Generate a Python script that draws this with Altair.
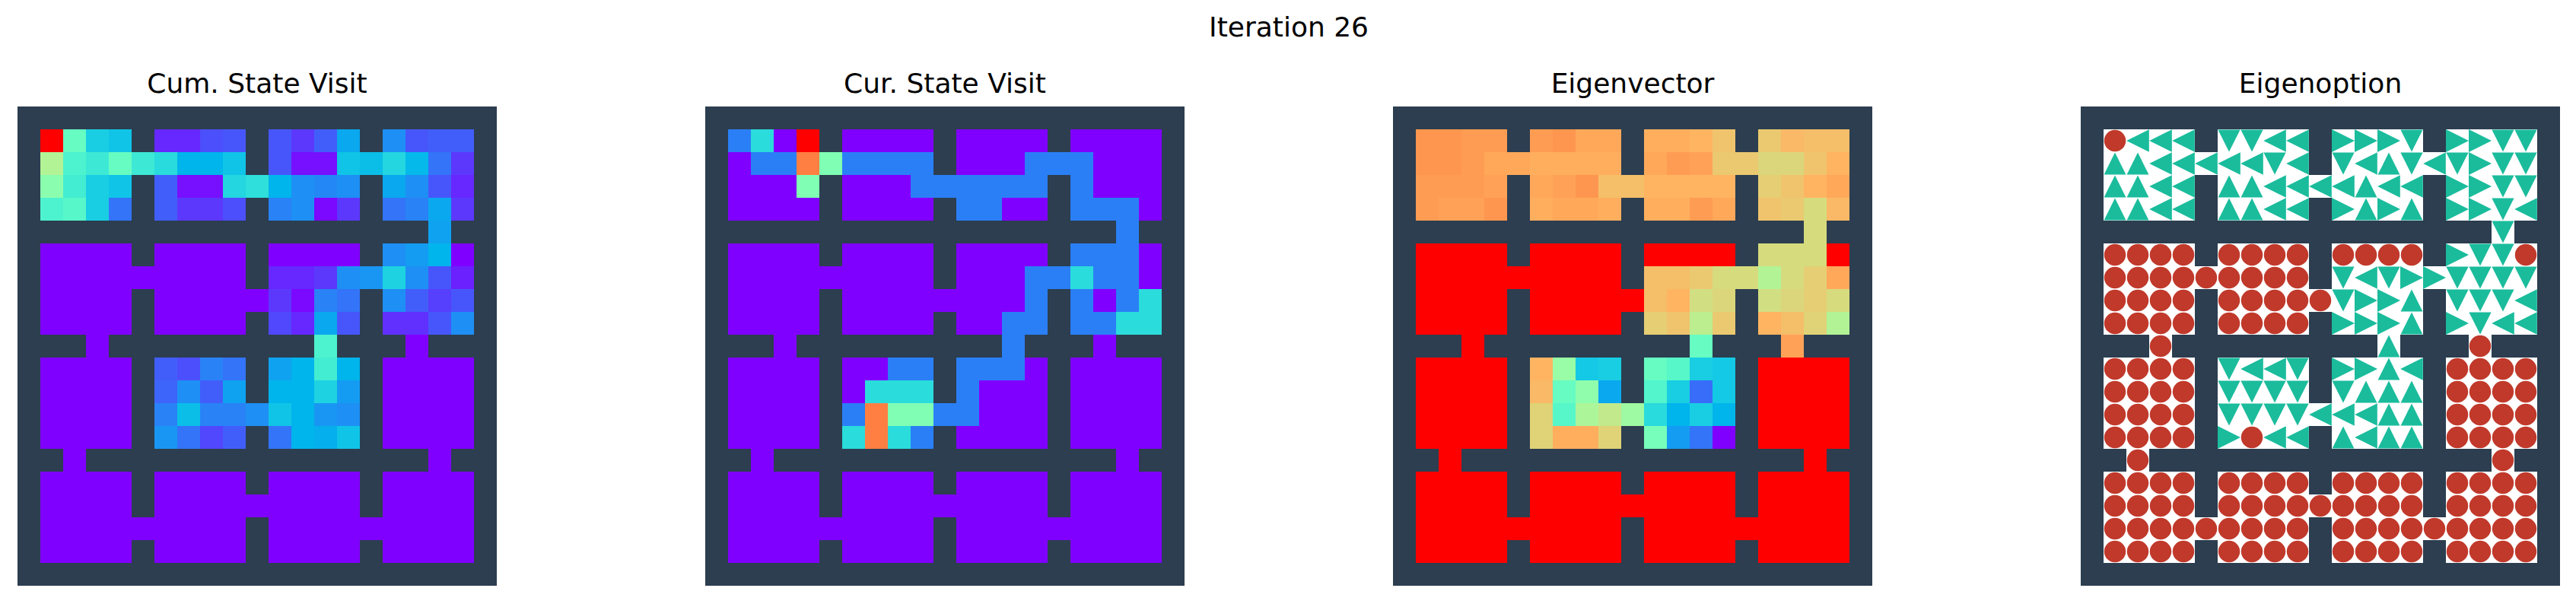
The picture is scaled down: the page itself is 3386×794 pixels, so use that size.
import math
import altair as alt
import pandas as pd

# grid world, 21 x 21 cells; "##" marks a wall cell
WALL_ROW = " ".join(["##"] * 21)

# cumulative state visits, percent of the maximum
CUM_VISIT = [
    WALL_ROW,
    "## 100 45 30 28 ## 5 5 10 11 ## 11 7 12 23 ## 19 11 12 12 ##",
    "## 60 40 37 45 37 33 25 25 28 ## 11 2 2 28 27 32 26 15 7 ##",
    "## 52 38 30 28 ## 12 2 2 32 34 25 19 18 19 ## 23 19 11 5 ##",
    "## 40 42 30 15 ## 12 7 7 10 ## 17 19 1 7 ## 15 17 23 7 ##",
    "## ## ## ## ## ## ## ## ## ## ## ## ## ## ## ## ## ## 22 ## ##",
    "## 0 0 0 0 ## 0 0 0 0 ## 0 0 0 0 ## 19 21 25 0 ##",
    "## 0 0 0 0 0 0 0 0 0 ## 5 5 7 19 20 31 19 11 4 ##",
    "## 0 0 0 0 ## 0 0 0 0 0 7 1 17 15 ## 19 12 8 11 ##",
    "## 0 0 0 0 ## 0 0 0 0 ## 9 5 23 11 ## 6 6 11 19 ##",
    "## ## ## 0 ## ## ## ## ## ## ## ## ## 40 ## ## ## 0 ## ## ##",
    "## 0 0 0 0 ## 12 10 17 15 ## 22 25 38 25 ## 0 0 0 0 ##",
    "## 0 0 0 0 ## 13 19 12 22 ## 25 25 31 21 ## 0 0 0 0 ##",
    "## 0 0 0 0 ## 17 27 17 17 19 28 25 20 19 ## 0 0 0 0 ##",
    "## 0 0 0 0 ## 20 15 9 12 ## 15 25 24 28 ## 0 0 0 0 ##",
    "## ## 0 ## ## ## ## ## ## ## ## ## ## ## ## ## ## ## 0 ## ##",
    "## 0 0 0 0 ## 0 0 0 0 ## 0 0 0 0 ## 0 0 0 0 ##",
    "## 0 0 0 0 ## 0 0 0 0 0 0 0 0 0 ## 0 0 0 0 ##",
    "## 0 0 0 0 0 0 0 0 0 ## 0 0 0 0 0 0 0 0 0 ##",
    "## 0 0 0 0 ## 0 0 0 0 ## 0 0 0 0 ## 0 0 0 0 ##",
    WALL_ROW,
]

# visits in the current iteration (counts)
CUR_VISIT = [
    WALL_ROW,
    "## 1 2 0 6 ## 0 0 0 0 ## 0 0 0 0 ## 0 0 0 0 ##",
    "## 0 1 1 5 3 1 1 1 1 ## 0 0 0 1 1 1 0 0 0 ##",
    "## 0 0 0 3 ## 0 0 0 1 1 1 1 1 1 ## 1 0 0 0 ##",
    "## 0 0 0 0 ## 0 0 0 0 ## 1 1 0 0 ## 1 1 1 0 ##",
    "## ## ## ## ## ## ## ## ## ## ## ## ## ## ## ## ## ## 1 ## ##",
    "## 0 0 0 0 ## 0 0 0 0 ## 0 0 0 0 ## 1 1 1 0 ##",
    "## 0 0 0 0 0 0 0 0 0 ## 0 0 0 1 1 2 1 1 0 ##",
    "## 0 0 0 0 ## 0 0 0 0 0 0 0 0 1 ## 1 0 1 2 ##",
    "## 0 0 0 0 ## 0 0 0 0 ## 0 0 1 1 ## 1 1 2 2 ##",
    "## ## ## 0 ## ## ## ## ## ## ## ## ## 1 ## ## ## 0 ## ## ##",
    "## 0 0 0 0 ## 0 0 1 1 ## 1 1 1 0 ## 0 0 0 0 ##",
    "## 0 0 0 0 ## 0 2 2 2 ## 1 0 0 0 ## 0 0 0 0 ##",
    "## 0 0 0 0 ## 1 5 3 3 1 1 0 0 0 ## 0 0 0 0 ##",
    "## 0 0 0 0 ## 2 5 2 1 ## 0 0 0 0 ## 0 0 0 0 ##",
    "## ## 0 ## ## ## ## ## ## ## ## ## ## ## ## ## ## ## 0 ## ##",
    "## 0 0 0 0 ## 0 0 0 0 ## 0 0 0 0 ## 0 0 0 0 ##",
    "## 0 0 0 0 ## 0 0 0 0 0 0 0 0 0 ## 0 0 0 0 ##",
    "## 0 0 0 0 0 0 0 0 0 ## 0 0 0 0 0 0 0 0 0 ##",
    "## 0 0 0 0 ## 0 0 0 0 ## 0 0 0 0 ## 0 0 0 0 ##",
    WALL_ROW,
]

# eigenvector, rescaled to percent of its range
EIGENVECTOR = [
    WALL_ROW,
    "## 80 80 79 79 ## 79 80 77 77 ## 76 76 75 72 ## 71 74 73 73 ##",
    "## 80 80 79 77 77 76 76 76 76 ## 77 79 78 71 71 68 68 72 75 ##",
    "## 79 79 79 78 ## 77 78 80 73 73 75 75 75 75 ## 70 72 75 77 ##",
    "## 79 78 78 80 ## 76 77 77 76 ## 76 76 79 77 ## 72 71 67 74 ##",
    "## ## ## ## ## ## ## ## ## ## ## ## ## ## ## ## ## ## 67 ## ##",
    "## 100 100 100 100 ## 100 100 100 100 ## 100 100 100 100 ## 67 67 67 100 ##",
    "## 100 100 100 100 100 100 100 100 100 ## 73 73 71 67 67 60 67 70 77 ##",
    "## 100 100 100 100 ## 100 100 100 100 100 73 75 66 68 ## 66 68 70 67 ##",
    "## 100 100 100 100 ## 100 100 100 100 ## 70 72 62 71 ## 75 73 69 60 ##",
    "## ## ## 100 ## ## ## ## ## ## ## ## ## 45 ## ## ## 78 ## ## ##",
    "## 100 100 100 100 ## 75 55 29 30 ## 45 42 30 29 ## 100 100 100 100 ##",
    "## 100 100 100 100 ## 74 45 53 23 ## 41 30 14 29 ## 100 100 100 100 ##",
    "## 100 100 100 100 ## 69 42 59 63 56 33 25 30 25 ## 100 100 100 100 ##",
    "## 100 100 100 100 ## 69 76 76 69 ## 48 21 15 0 ## 100 100 100 100 ##",
    "## ## 100 ## ## ## ## ## ## ## ## ## ## ## ## ## ## ## 100 ## ##",
    "## 100 100 100 100 ## 100 100 100 100 ## 100 100 100 100 ## 100 100 100 100 ##",
    "## 100 100 100 100 ## 100 100 100 100 100 100 100 100 100 ## 100 100 100 100 ##",
    "## 100 100 100 100 100 100 100 100 100 ## 100 100 100 100 100 100 100 100 100 ##",
    "## 100 100 100 100 ## 100 100 100 100 ## 100 100 100 100 ## 100 100 100 100 ##",
    WALL_ROW,
]

# eigenoption policy: o = terminate, ^ v < > = move direction, # = wall
EIGENOPTION = [
    "#####################",
    "#o<<<#vv<<#>>>v#>>vv#",
    "#^^<<<<<v<#v<^v<v>vv#",
    "#^^<<#^^<<<<^<<#>>vv#",
    "#^^<<#^^<<#>^>^#>>v<#",
    "##################v##",
    "#oooo#oooo#oooo#>vvo#",
    "#ooooooooo#v<v>>vvvv#",
    "#oooo#ooooov>>^#vvv<#",
    "#oooo#oooo#>>>^#>v<<#",
    "###o#########^###o###",
    "#oooo#v<<v#>>^<#oooo#",
    "#oooo#vvvv#v^^^#oooo#",
    "#oooo#vvvv<<<^^#oooo#",
    "#oooo#>o<<#^<^^#oooo#",
    "##o###############o##",
    "#oooo#oooo#oooo#oooo#",
    "#oooo#ooooooooo#oooo#",
    "#ooooooooo#ooooooooo#",
    "#oooo#oooo#oooo#oooo#",
    "#####################",
]

TITLES = ["Cum. State Visit", "Cur. State Visit", "Eigenvector", "Eigenoption"]
SUPTITLE = "Iteration 26"

WALL_COLOR = "#2c3e50"
CELL = 30
SIDE = CELL * 21
FONT = "DejaVu Sans"


def rainbow(x):
    # matplotlib "rainbow" colormap
    r = min(1.0, abs(2 * x - 0.5))
    g = math.sin(math.pi * x)
    b = math.cos(math.pi * x / 2)
    return "#%02x%02x%02x" % tuple(int(round(255 * max(0.0, v))) for v in (r, g, b))


RAINBOW = [rainbow(i / 20) for i in range(21)]


def parse_values(grid, scale):
    recs = []
    for r, line in enumerate(grid):
        for c, tok in enumerate(line.split()):
            if tok != "##":
                recs.append({"row": r, "col": c, "value": float(tok) / scale})
    return pd.DataFrame(recs)


walls = pd.DataFrame(
    [{"row": r, "col": c} for r, line in enumerate(EIGENOPTION) for c, ch in enumerate(line) if ch == "#"]
)
moves = pd.DataFrame(
    [{"row": r, "col": c, "act": ch} for r, line in enumerate(EIGENOPTION) for c, ch in enumerate(line) if ch != "#"]
)

cur_max = max(float(t) for line in CUR_VISIT for t in line.split() if t != "##")
panels_data = [
    parse_values(CUM_VISIT, 100.0),
    parse_values(CUR_VISIT, cur_max),
    parse_values(EIGENVECTOR, 100.0),
]

X = alt.X("col:O", scale=alt.Scale(domain=list(range(21)), paddingInner=0, paddingOuter=0), axis=None)
Y = alt.Y("row:O", scale=alt.Scale(domain=list(range(21)), paddingInner=0, paddingOuter=0), axis=None)


def panel_title(text):
    return alt.TitleParams(text, font=FONT, fontSize=36, fontWeight="normal", color="black",
                           anchor="middle", baseline="bottom", offset=-26)


def wall_layer():
    return alt.Chart(walls).mark_rect(color=WALL_COLOR).encode(x=X, y=Y)


def heat_panel(df, title):
    cells = alt.Chart(df).mark_rect().encode(
        x=X, y=Y,
        color=alt.Color("value:Q", scale=alt.Scale(domain=[0, 1], range=RAINBOW, interpolate="rgb"), legend=None),
    )
    return alt.layer(wall_layer(), cells).properties(width=SIDE, height=SIDE, title=panel_title(title))


shape_domain = ["o", "^", "v", "<", ">"]
shape_range = ["circle", "M0,-1L1,1L-1,1Z", "M-1,-1L1,-1L0,1Z", "M1,-1L1,1L-1,0Z", "M-1,-1L-1,1L1,0Z"]

floor = alt.Chart(moves).mark_rect(color="white").encode(x=X, y=Y)
marks = alt.Chart(moves).mark_point(filled=True, opacity=1, strokeWidth=0).encode(
    x=X, y=Y,
    shape=alt.Shape("act:N", scale=alt.Scale(domain=shape_domain, range=shape_range), legend=None),
    fill=alt.Fill("act:N", scale=alt.Scale(domain=shape_domain,
                                           range=["#c0392b", "#1abc9c", "#1abc9c", "#1abc9c", "#1abc9c"]),
                  legend=None),
    size=alt.Size("act:N", scale=alt.Scale(domain=shape_domain, range=[810, 900, 900, 900, 900]), legend=None),
)
option_panel = alt.layer(wall_layer(), floor, marks).properties(
    width=SIDE, height=SIDE, title=panel_title(TITLES[3])
)

panels = [heat_panel(d, t) for d, t in zip(panels_data, TITLES[:3])] + [option_panel]

chart = alt.hconcat(*panels, spacing=274).resolve_scale(
    color="independent", fill="independent", shape="independent", size="independent"
).properties(
    title=alt.TitleParams(SUPTITLE, font=FONT, fontSize=36, fontWeight="normal", color="black",
                          anchor="middle", baseline="bottom", offset=1),
    padding={"left": 15, "top": 11, "right": 5, "bottom": 5},
    background="white",
).configure_view(stroke=None)

chart.save("out.html", embed_options={"renderer": "svg", "actions": False})
